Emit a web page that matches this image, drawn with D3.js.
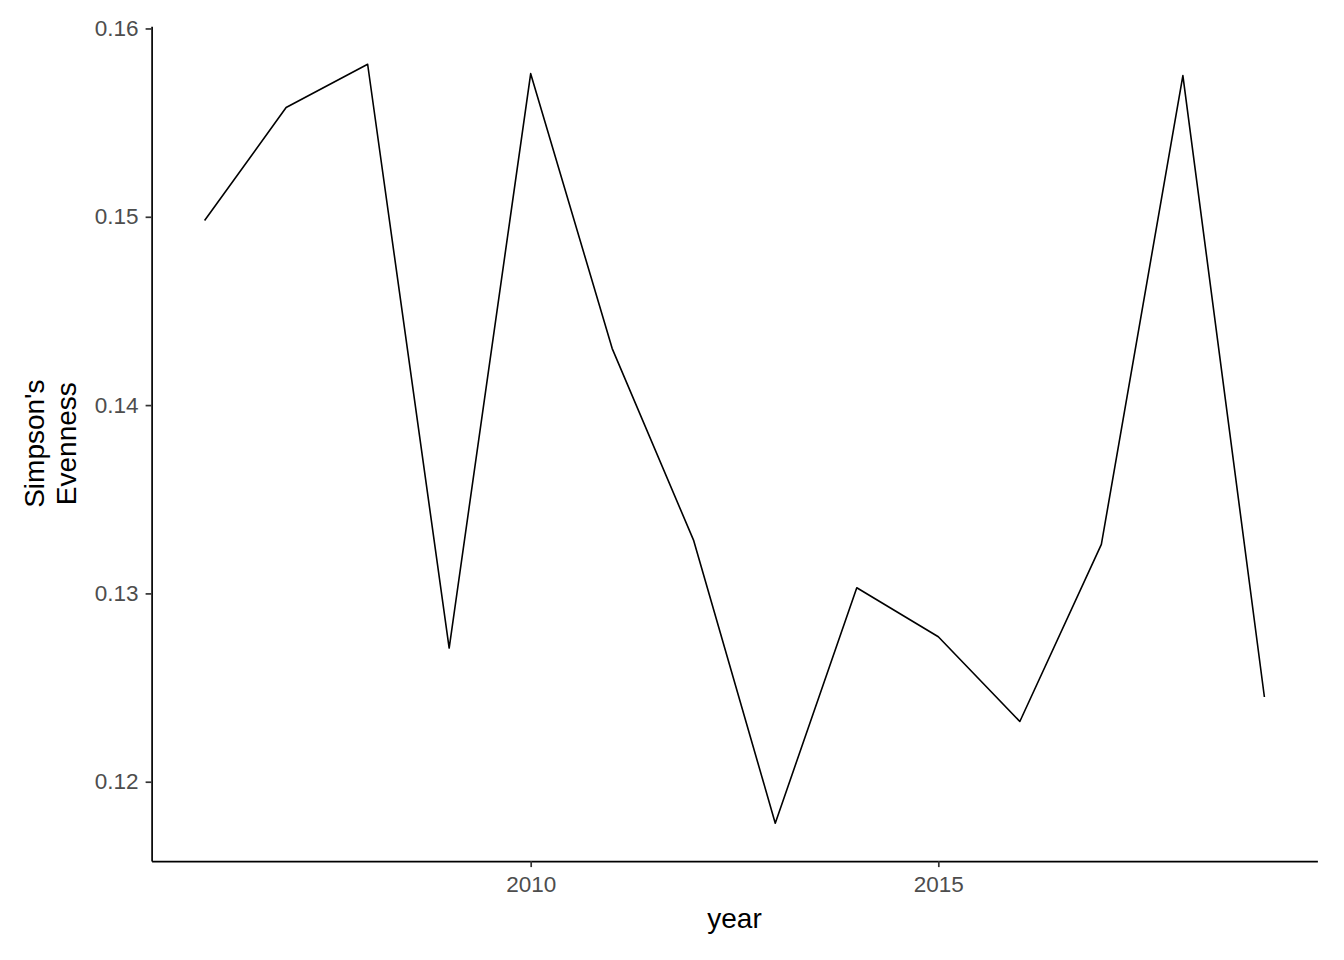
<!DOCTYPE html>
<html>
<head>
<meta charset="utf-8">
<script src="https://cdn.jsdelivr.net/npm/d3@7"></script>
<style>
  html, body { margin: 0; padding: 0; background: #ffffff; }
  svg { display: block; }
  text { font-family: "Liberation Sans", Arial, sans-serif; }
</style>
</head>
<body>
<svg id="chart" width="1344" height="960"></svg>
<script>
const years = [2006, 2007, 2008, 2009, 2010, 2011, 2012, 2013, 2014, 2015, 2016, 2017, 2018, 2019];
const evenness = [0.1498, 0.1558, 0.1581, 0.1271, 0.1576, 0.1430, 0.1328, 0.1178, 0.1303, 0.1277, 0.1232, 0.1326, 0.1575, 0.1245];
const xTicks = [2010, 2015];
const yTicks = [0.12, 0.13, 0.14, 0.15, 0.16];
const xLabel = "year";
const yLabelLines = ["Simpson's", "Evenness"];

const W = 1344, H = 960;
const panel = { left: 151.6, right: 1317.4, top: 26.3, bottom: 861.1 };

function expand(ext) {
  const r = ext[1] - ext[0];
  return [ext[0] - 0.05 * r, ext[1] + 0.05 * r];
}

const x = d3.scaleLinear().domain(expand(d3.extent(years))).range([panel.left, panel.right]);
const y = d3.scaleLinear().domain(expand(d3.extent(evenness))).range([panel.bottom, panel.top]);

const svg = d3.select("#chart");
svg.append("rect").attr("width", W).attr("height", H).attr("fill", "#ffffff");

const data = years.map((yr, i) => ({ yr, v: evenness[i] }));

// line
svg.append("path")
  .datum(data)
  .attr("fill", "none")
  .attr("stroke", "#000000")
  .attr("stroke-width", 1.6)
  .attr("stroke-linejoin", "round")
  .attr("d", d3.line().x(d => x(d.yr)).y(d => y(d.v)));

// x axis
const xAxis = svg.append("g")
  .attr("transform", `translate(0,${panel.bottom})`)
  .call(d3.axisBottom(x).tickValues(xTicks).tickFormat(d3.format("d")).tickSize(6).tickPadding(9).tickSizeOuter(0));
xAxis.select(".domain").attr("stroke", "#000000").attr("stroke-width", 1.7);
xAxis.selectAll(".tick line").attr("stroke", "#333333").attr("stroke-width", 1.7);
xAxis.selectAll(".tick text").attr("fill", "#4D4D4D").attr("font-size", "22.5px").attr("dy", "0.71em")
  .attr("font-family", '"Liberation Sans", Arial, sans-serif');

// y axis
const yAxis = svg.append("g")
  .attr("transform", `translate(${panel.left},0)`)
  .call(d3.axisLeft(y).tickValues(yTicks).tickFormat(d3.format(".2f")).tickSize(6).tickPadding(7).tickSizeOuter(0));
yAxis.select(".domain").attr("stroke", "#000000").attr("stroke-width", 1.7);
yAxis.selectAll(".tick line").attr("stroke", "#333333").attr("stroke-width", 1.7);
yAxis.selectAll(".tick text").attr("fill", "#4D4D4D").attr("font-size", "22.5px")
  .attr("font-family", '"Liberation Sans", Arial, sans-serif');

// x title
svg.append("text")
  .attr("x", (panel.left + panel.right) / 2)
  .attr("y", 928)
  .attr("text-anchor", "middle")
  .attr("font-size", "28px")
  .attr("fill", "#000000")
  .text(xLabel);

// y title (two lines, rotated)
const yc = (panel.top + panel.bottom) / 2;
const baselines = [44, 76];
yLabelLines.forEach((ln, i) => {
  svg.append("text")
    .attr("transform", `translate(${baselines[i]},${yc}) rotate(-90)`)
    .attr("text-anchor", "middle")
    .attr("font-size", "28px")
    .attr("fill", "#000000")
    .text(ln);
});
</script>
</body>
</html>
